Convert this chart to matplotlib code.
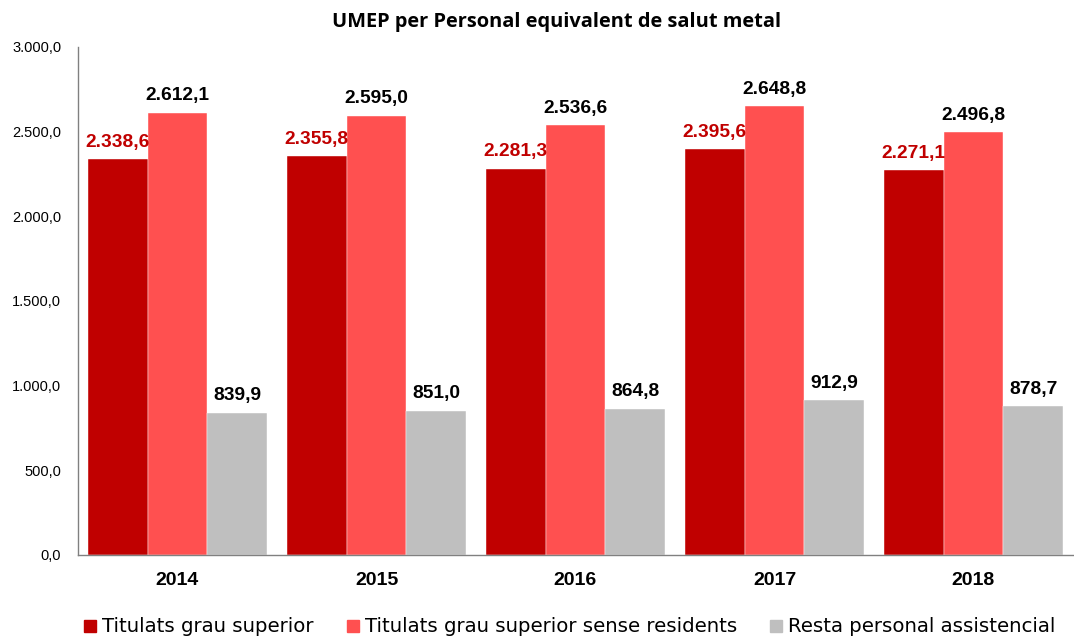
import numpy as np
from matplotlib import pyplot as plt
from matplotlib.lines import Line2D

years = ["2014", "2015", "2016", "2017", "2018"]
titulats = [2338.6, 2355.8, 2281.3, 2395.6, 2271.1]
sense_residents = [2612.1, 2595.0, 2536.6, 2648.8, 2496.8]
resta = [839.9, 851.0, 864.8, 912.9, 878.7]
series_names = ["Titulats grau superior", "Titulats grau superior sense residents",
                "Resta personal assistencial"]
colors = ["#C00000", "#FF5050", "#BFBFBF"]
label_colors = ["#C00000", "black", "black"]
yticks = [0, 500, 1000, 1500, 2000, 2500, 3000]


def fmt(v):
    # 2.338,6 style
    s = "{:,.1f}".format(v)
    return s.replace(",", "X").replace(".", ",").replace("X", ".")


fig = plt.figure(figsize=(10.74, 6.38), dpi=100)
ax = fig.add_axes([78 / 1074, 83 / 638, 995 / 1074, 508 / 638])

x = np.arange(len(years))
w = 0.3
for i, vals in enumerate([titulats, sense_residents, resta]):
    pos = x + (i - 1) * w
    ax.bar(pos, vals, width=w, color=colors[i], edgecolor="white", linewidth=0.3)
    for p, v in zip(pos, vals):
        ax.text(p, v + 50, fmt(v), ha="center", va="bottom", fontsize=13.8,
                fontweight="bold", color=label_colors[i], family="Liberation Sans")

ax.set_xlim(-0.5, len(years) - 0.5)
ax.set_ylim(0, 3000)
ax.set_yticks(yticks)
ax.set_yticklabels([fmt(t) for t in yticks], fontsize=10.5, family="Liberation Sans")
ax.set_xticks(x)
ax.set_xticklabels(years, fontsize=14, fontweight="bold", family="Liberation Sans")
ax.tick_params(axis="both", length=0)
ax.tick_params(axis="y", pad=12)
ax.tick_params(axis="x", pad=12)
for s in ["top", "right"]:
    ax.spines[s].set_visible(False)
for s in ["left", "bottom"]:
    ax.spines[s].set_color("#808080")
    ax.spines[s].set_linewidth(1)

fig.text(557 / 1074, 1 - 22 / 638, "UMEP per Personal equivalent de salut metal",
         ha="center", va="center", fontsize=14.4, fontweight="bold", family="Open Sans")

handles = [Line2D([], [], marker="s", linestyle="", markersize=8, color=c) for c in colors]
fig.legend(handles, series_names, loc="center", bbox_to_anchor=(568 / 1074, 1 - 627 / 638),
           ncol=3, frameon=False, handletextpad=0.1, columnspacing=1.5,
           handlelength=1.0, prop={"family": "DejaVu Sans", "size": 14.2})

fig.savefig("out.png", dpi=100)
